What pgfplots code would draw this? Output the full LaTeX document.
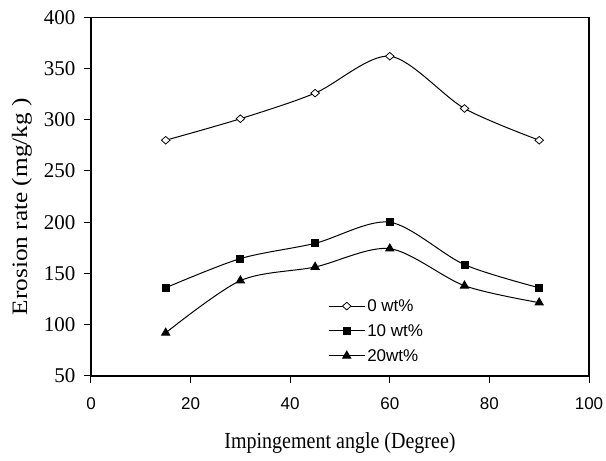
\documentclass[border=0pt]{standalone}
\usepackage{fontspec}
\setmainfont{Liberation Serif}
\setsansfont{Liberation Sans}
\usepackage{graphicx}
\usepackage{pgfplots}
\pgfplotsset{compat=1.18}

\begin{document}
\begin{tikzpicture}
\begin{axis}[
name=ax,
scale only axis,
width=498pt,
height=358.6pt,
xmin=0, xmax=100,
ymin=50, ymax=400,
xtick={0,20,...,100},
ytick={50,100,...,400},
tick align=outside,
major tick length=7pt,
xtick pos=bottom,
ytick pos=left,
axis line style={line width=1.3pt},
tick style={line width=1pt, black},
/pgf/number format/assume math mode=true,
xticklabel style={font=\fontsize{17}{20}\selectfont\sffamily, yshift=-11pt},
yticklabel style={font=\fontsize{21}{24}\selectfont, xshift=-5pt},
xlabel={\scalebox{0.87}[1]{Impingement angle (Degree)}},
ylabel={\scalebox{1.15}[1]{Erosion rate (mg/kg )}},
xlabel style={font=\fontsize{23}{26}\selectfont, at={(axis description cs:0.5,-0.188)}, anchor=center},
ylabel style={font=\fontsize{22}{24}\selectfont, at={(axis description cs:-0.1386,0.4716)}, anchor=center},
legend style={draw=none, fill=none, at={(axis description cs:0.47,0.225)}, anchor=north west,
  font=\fontsize{17}{20}\selectfont\sffamily, row sep=7.5pt},
legend cell align=left,
legend image code/.code={\draw[mark repeat=2,mark phase=2] plot coordinates {(0pt,0pt) (18pt,0pt) (36pt,0pt)};},
every axis plot/.append style={black, line width=1pt, smooth},
]
% 0 wt%
\addplot[mark=diamond*, mark size=3.8pt, mark options={fill=white, xscale=1.5, line width=0.8pt}]
  coordinates {(15,280) (30,301) (45,326) (60,362) (75,311) (90,280)};
% 10 wt%
\addplot[mark=square*, mark size=3.5pt]
  coordinates {(15,136) (30,164.5) (45,179.4) (60,200) (75,158.6) (90,136)};
% 20 wt%
\addplot[mark=triangle*, mark size=4.6pt]
  coordinates {(15,92) (30,143) (45,156.3) (60,174.2) (75,138) (90,121.5)};
\legend{0 wt\%, 10 wt\%, 20wt\%}
\end{axis}
\pgfresetboundingbox
\path ([shift={(-91pt,-84.4pt)}]ax.south west) rectangle ([shift={(17pt,17.3pt)}]ax.north east);
\end{tikzpicture}
\end{document}
